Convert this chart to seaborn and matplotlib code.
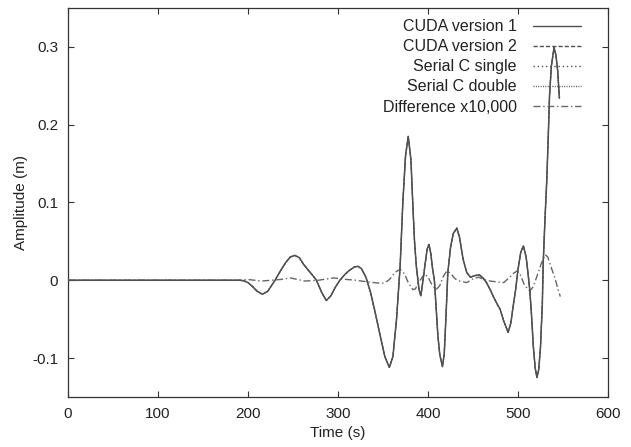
import matplotlib
matplotlib.use("Agg")
import matplotlib.pyplot as plt
import seaborn as sns
import pandas as pd

# values
time_s = [0, 190, 195, 200, 205, 210, 216, 222, 230, 236, 242, 247, 252, 257, 262,
          267, 272, 276, 282, 287, 292, 297, 302, 308, 313, 318, 322, 326, 331, 336,
          341, 347, 352, 357, 361, 365, 369, 372, 375, 378, 381, 383, 385, 387, 390,
          392, 395, 397, 399, 401, 403, 405, 407, 409, 411, 413, 416, 418, 420, 422,
          425, 428, 432, 435, 439, 443, 447, 452, 457, 461, 465, 469, 473, 477, 480,
          484, 489, 492, 495, 497, 500, 503, 506, 509, 511, 513, 515, 517, 519, 521,
          523, 525, 527, 528, 530, 532, 534, 535, 537, 540, 542, 544, 546]
amp_cuda1 = [0, 0, -0.0005, -0.003, -0.008, -0.014, -0.018, -0.014, 0.0, 0.012, 0.023,
             0.030, 0.032, 0.029, 0.020, 0.013, 0.006, 0.0, -0.016, -0.026, -0.020,
             -0.009, 0.0, 0.008, 0.013, 0.017, 0.018, 0.015, 0.004, -0.015, -0.040,
             -0.072, -0.098, -0.112, -0.098, -0.050, 0.018, 0.100, 0.160, 0.185, 0.155,
             0.100, 0.050, 0.018, -0.012, -0.020, 0.005, 0.023, 0.040, 0.046, 0.035,
             0.015, 0.001, -0.035, -0.072, -0.095, -0.111, -0.095, -0.045, 0.010, 0.042,
             0.060, 0.067, 0.055, 0.027, 0.010, 0.004, 0.006, 0.007, 0.003, -0.003,
             -0.012, -0.022, -0.031, -0.037, -0.052, -0.067, -0.055, -0.030, -0.015,
             0.014, 0.036, 0.044, 0.030, 0.010, -0.012, -0.045, -0.085, -0.112, -0.125,
             -0.115, -0.085, -0.030, 0.023, 0.080, 0.130, 0.200, 0.237, 0.275, 0.299,
             0.290, 0.270, 0.234]
# CUDA v2 and serial runs lie exactly on top of version 1
amp_cuda2 = amp_cuda1
amp_serial_single = amp_cuda1
amp_serial_double = amp_cuda1

diff_time_s = [0, 190, 200, 215, 236, 247, 255, 263, 278, 295, 310, 320, 332, 340, 349,
               355, 358, 363, 369, 374, 378, 383, 386, 390, 396, 400, 404, 409, 413, 417,
               421, 425, 430, 435, 443, 450, 456, 462, 469, 476, 484, 491, 495, 499, 503,
               507, 513, 517, 521, 526, 530, 533, 537, 541, 544, 547]
diff_x10000 = [0, 0, 0.001, -0.001, 0.001, 0.003, 0.001, -0.001, 0.0, 0.003, 0.001, 0.0,
               -0.002, -0.003, -0.004, -0.001, 0.002, 0.010, 0.014, 0.008, -0.003, -0.012,
               -0.011, -0.002, 0.008, 0.004, -0.005, -0.012, -0.007, 0.005, 0.012, 0.009,
               0.002, -0.001, -0.003, 0.002, 0.004, 0.001, -0.001, -0.002, -0.003, 0.004,
               0.009, 0.012, 0.006, -0.006, -0.014, -0.008, 0.005, 0.022, 0.033, 0.030,
               0.016, 0.003, -0.010, -0.021]

x_ticks = [0, 100, 200, 300, 400, 500, 600]
y_ticks = [-0.1, 0, 0.1, 0.2, 0.3]
y_tick_labels = ["-0.1", "0", "0.1", "0.2", "0.3"]

sns.set_style("ticks")
plt.rcParams["font.family"] = ["Liberation Sans", "DejaVu Sans"]

fig = plt.figure(figsize=(6.31, 4.47), dpi=100)
ax = fig.add_axes([0.1078, 0.1119, 0.8558, 0.8703])

line_color = "#505050"
series = [
    ("CUDA version 1", amp_cuda1, "-", 1.1, 5),
    ("CUDA version 2", amp_cuda2, (0, (3, 1.5)), 0.8, 2),
    ("Serial C single", amp_serial_single, (0, (1, 2)), 0.8, 2),
    ("Serial C double", amp_serial_double, (0, (0.7, 1)), 0.8, 2),
]
for name, vals, ls, lw, z in series:
    df = pd.DataFrame({"t": time_s, "a": vals})
    sns.lineplot(data=df, x="t", y="a", ax=ax, color=line_color, linestyle=ls,
                 linewidth=lw, label=name, zorder=z)

df_diff = pd.DataFrame({"t": diff_time_s, "a": diff_x10000})
sns.lineplot(data=df_diff, x="t", y="a", ax=ax, color="#666666",
             linestyle=(0, (5, 2, 1, 2)), linewidth=1.0,
             label="Difference x10,000", zorder=4)

ax.set_xlim(0, 600)
ax.set_ylim(-0.15, 0.35)
ax.set_xticks(x_ticks)
ax.set_yticks(y_ticks)
ax.set_yticklabels(y_tick_labels)
ax.tick_params(direction="in", length=4, width=0.8, colors="#333333",
               labelsize=11, labelcolor="#222222", top=True, right=True,
               labeltop=False, labelright=False, pad=7)
for sp in ax.spines.values():
    sp.set_color("#333333")
    sp.set_linewidth(0.9)
    sp.set_visible(True)

ax.set_xlabel("Time (s)", fontsize=11, color="#222222", labelpad=4)
ax.set_ylabel("Amplitude (m)", fontsize=11, color="#222222", labelpad=3)

leg = ax.legend(loc="upper right", frameon=False, markerfirst=False, fontsize=11.5,
                handlelength=3.0, handletextpad=1.0, labelspacing=0.32,
                borderaxespad=0.3, bbox_to_anchor=(0.97, 1.0))
for h in leg.get_lines():
    h.set_linewidth(1.0)
for txt in leg.get_texts():
    txt.set_color("#222222")

plt.savefig("out.png", dpi=100)
plt.close()
